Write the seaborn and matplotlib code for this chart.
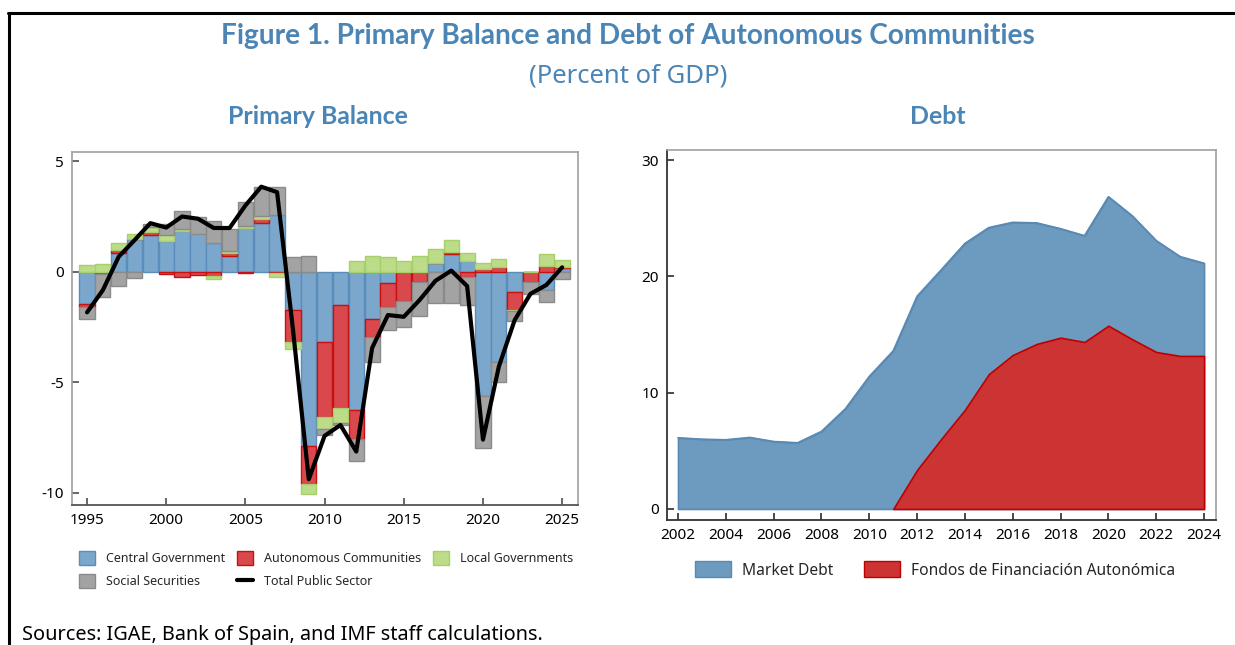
import numpy as np
import pandas as pd
import matplotlib
matplotlib.use("Agg")
import matplotlib.pyplot as plt
from matplotlib.patches import Patch
from matplotlib.lines import Line2D
import seaborn as sns

# ---------------- data: primary balance (percent of GDP) ----------------
pb_years = list(range(1995, 2026))
central_gov = [-1.46, 0.00, 0.83, 1.46, 1.66, 1.39, 1.84, 1.70, 1.31, 0.71,
               2.00, 2.22, 2.56, -1.73, -7.89, -3.17, -1.51, -6.26, -2.15, -0.53,
               0.00, 0.00, 0.38, 0.80, 0.48, -5.62, -4.07, -0.90, 0.00, -0.83, 0.15]
autonomous = [-0.12, -0.12, 0.15, 0.00, 0.15, -0.12, -0.26, -0.15, -0.18, 0.15,
              -0.08, 0.15, -0.05, -1.43, -1.72, -3.39, -4.65, -1.33, -0.81, -1.06,
              -1.33, -0.45, 0.00, 0.09, -0.23, 0.12, 0.23, -0.83, -0.48, 0.26, 0.08]
local_gov = [0.30, 0.33, 0.30, 0.24, 0.20, 0.27, 0.10, 0.00, -0.17, 0.09,
             0.06, 0.15, -0.21, -0.34, -0.47, -0.56, -0.68, 0.48, 0.71, 0.65,
             0.48, 0.72, 0.63, 0.54, 0.35, 0.29, 0.33, -0.06, 0.00, 0.53, 0.30]
social_sec = [-0.57, -1.04, -0.63, -0.30, 0.15, 0.50, 0.80, 0.80, 1.00, 1.00,
              1.10, 1.33, 1.28, 0.65, 0.71, -0.27, -0.10, -0.98, -1.13, -1.06,
              -1.16, -1.55, -1.43, -1.43, -1.28, -2.37, -0.94, -0.42, -0.53, -0.53, -0.33]
total_public = [-1.84, -0.83, 0.68, 1.43, 2.20, 2.00, 2.50, 2.40, 1.98, 1.98,
                3.00, 3.85, 3.60, -2.60, -9.39, -7.43, -6.94, -8.14, -3.45, -1.96,
                -2.04, -1.28, -0.41, 0.05, -0.65, -7.60, -4.30, -2.19, -1.00, -0.60, 0.20]

# ---------------- data: debt (percent of GDP) ----------------
debt_years = list(range(2002, 2025))
market_debt = [6.12, 6.00, 5.95, 6.15, 5.80, 5.69, 6.67, 8.62, 11.40, 13.60,
               14.94, 14.55, 14.31, 12.60, 11.41, 10.41, 9.37, 9.14, 11.09, 10.61,
               9.57, 8.54, 7.97]
ffa_debt = [np.nan, np.nan, np.nan, np.nan, np.nan, np.nan, np.nan, np.nan, np.nan, 0.00,
            3.36, 6.00, 8.53, 11.60, 13.24, 14.19, 14.73, 14.36, 15.76, 14.59,
            13.50, 13.16, 13.16]

pb_xticks = [1995, 2000, 2005, 2010, 2015, 2020, 2025]
pb_yticks = [-10, -5, 0, 5]
debt_xticks = list(range(2002, 2025, 2))
debt_yticks = [0, 10, 20, 30]

series_names = ["Central Government", "Autonomous Communities",
                "Local Governments", "Social Securities"]
# ------------------------------------------------------------------

sns.set_theme(style="ticks")
plt.rcParams["font.family"] = ["Noto Sans", "DejaVu Sans"]
plt.rcParams["axes.unicode_minus"] = False
BOLD_FAM = ["Lato", "DejaVu Sans"]

TITLE_C = "#4a85b5"
fills = ["#7ba7cc", "#d9484c", "#bddc8a", "#a3a3a3"]
edges = ["#5b8dba", "#c81010", "#a8d06a", "#8a8a8a"]

fig = plt.figure(figsize=(12.35, 6.45), dpi=100)
fig.patch.set_facecolor("white")

# ---- left: primary balance ----
ax1 = fig.add_axes([72 / 1235, 1 - 505 / 645, 506 / 1235, 353 / 645])
pb = pd.DataFrame({"year": pb_years, series_names[0]: central_gov,
                   series_names[1]: autonomous, series_names[2]: local_gov,
                   series_names[3]: social_sec, "total": total_public})
pos_b = np.zeros(len(pb))
neg_b = np.zeros(len(pb))
for name, fc, ec in zip(series_names, fills, edges):
    v = pb[name].to_numpy()
    bottom = np.where(v >= 0, pos_b, neg_b)
    ax1.bar(pb["year"], v, bottom=bottom, width=0.96, color=fc,
            edgecolor=ec, linewidth=1.0, zorder=2)
    pos_b = pos_b + np.where(v > 0, v, 0)
    neg_b = neg_b + np.where(v < 0, v, 0)
sns.lineplot(data=pb, x="year", y="total", ax=ax1, color="black",
             linewidth=3.0, zorder=3, legend=False)
ax1.set_xlim(1994.05, 2026.0)
ax1.set_ylim(-10.56, 5.42)
ax1.set_xticks(pb_xticks)
ax1.set_yticks(pb_yticks)
ax1.set_xlabel("")
ax1.set_ylabel("")
ax1.tick_params(axis="both", direction="in", length=5, labelsize=11,
                colors="#555555", labelcolor="black", pad=6)
for side in ["top", "right", "left"]:
    ax1.spines[side].set_color("#a0a0a0")
    ax1.spines[side].set_linewidth(1.2)
ax1.spines["bottom"].set_color("#555555")
ax1.spines["bottom"].set_linewidth(1.3)

handles = [
    Patch(facecolor=fills[0], edgecolor=edges[0], label=series_names[0]),
    Patch(facecolor=fills[3], edgecolor=edges[3], label=series_names[3]),
    Patch(facecolor=fills[1], edgecolor=edges[1], label=series_names[1]),
    Line2D([0], [0], color="black", linewidth=3, label="Total Public Sector"),
    Patch(facecolor=fills[2], edgecolor=edges[2], label=series_names[2]),
]
fig.legend(handles=handles, loc="upper left", ncol=3, frameon=False,
           bbox_to_anchor=(74 / 1235, 1 - 546 / 645), fontsize=9,
           handlelength=1.3, handleheight=1.3, columnspacing=0.9,
           handletextpad=0.9, labelspacing=0.75, borderaxespad=0)

# ---- right: debt ----
ax2 = fig.add_axes([667 / 1235, 1 - 520 / 645, 549 / 1235, 370 / 645])
debt = pd.DataFrame({"year": debt_years, "market": market_debt, "ffa": ffa_debt})
ffa0 = debt["ffa"].fillna(0).to_numpy()
top = ffa0 + debt["market"].to_numpy()
ax2.fill_between(debt["year"], 0, top, facecolor="#6d9bbf", edgecolor="#5a8ab3",
                 linewidth=1.2, zorder=2)
mask = debt["ffa"].notna()
ax2.fill_between(debt["year"][mask], 0, debt["ffa"][mask], facecolor="#cc3333",
                 edgecolor="#c00000", linewidth=1.2, zorder=3)
sns.lineplot(x=debt["year"], y=top, ax=ax2, color="#5a8ab3", linewidth=1.2,
             zorder=4, legend=False)
ax2.set_xlim(2001.54, 2024.5)
ax2.set_ylim(-0.95, 30.87)
ax2.set_xticks(debt_xticks)
ax2.set_yticks(debt_yticks)
ax2.set_xlabel("")
ax2.set_ylabel("")
ax2.tick_params(axis="both", direction="in", length=5, labelsize=11,
                colors="#333333", labelcolor="black", pad=6)
for side in ["top", "right"]:
    ax2.spines[side].set_color("#a0a0a0")
    ax2.spines[side].set_linewidth(1.2)
for side in ["left", "bottom"]:
    ax2.spines[side].set_color("#333333")
    ax2.spines[side].set_linewidth(1.3)

h2 = [Patch(facecolor="#6d9bbf", edgecolor="#5a8ab3", label="Market Debt"),
      Patch(facecolor="#cc3333", edgecolor="#c00000",
            label="Fondos de Financiación Autonómica")]
fig.legend(handles=h2, loc="center", ncol=2, frameon=False,
           bbox_to_anchor=(935 / 1235, 1 - 570 / 645), fontsize=11.2,
           handlelength=2.3, handleheight=1.2, columnspacing=2.0,
           handletextpad=0.7)

# ---- titles / text ----
fig.text(628 / 1235, 1 - 36 / 645,
         "Figure 1. Primary Balance and Debt of Autonomous Communities",
         ha="center", va="center", fontsize=20.2, fontweight="bold",
         color=TITLE_C, family=BOLD_FAM)
fig.text(628 / 1235, 1 - 76 / 645, "(Percent of GDP)", ha="center", va="center",
         fontsize=18.5, color=TITLE_C)
fig.text(318 / 1235, 1 - 117 / 645, "Primary Balance", ha="center", va="center",
         fontsize=17.9, fontweight="bold", color=TITLE_C, family=BOLD_FAM)
fig.text(938 / 1235, 1 - 117 / 645, "Debt", ha="center", va="center",
         fontsize=17.9, fontweight="bold", color=TITLE_C, family=BOLD_FAM)
fig.text(22 / 1235, 1 - 635 / 645,
         "Sources: IGAE, Bank of Spain, and IMF staff calculations.",
         ha="left", va="center", fontsize=14.3, color="black")

# frame lines (top and left)
fig.add_artist(Line2D([8 / 1235, 1.0], [1 - 13 / 645, 1 - 13 / 645],
                      color="black", linewidth=2.2, transform=fig.transFigure))
fig.add_artist(Line2D([9 / 1235, 9 / 1235], [0, 1 - 13 / 645],
                      color="black", linewidth=2.2, transform=fig.transFigure))

fig.savefig("out.png", dpi=100, facecolor="white")
